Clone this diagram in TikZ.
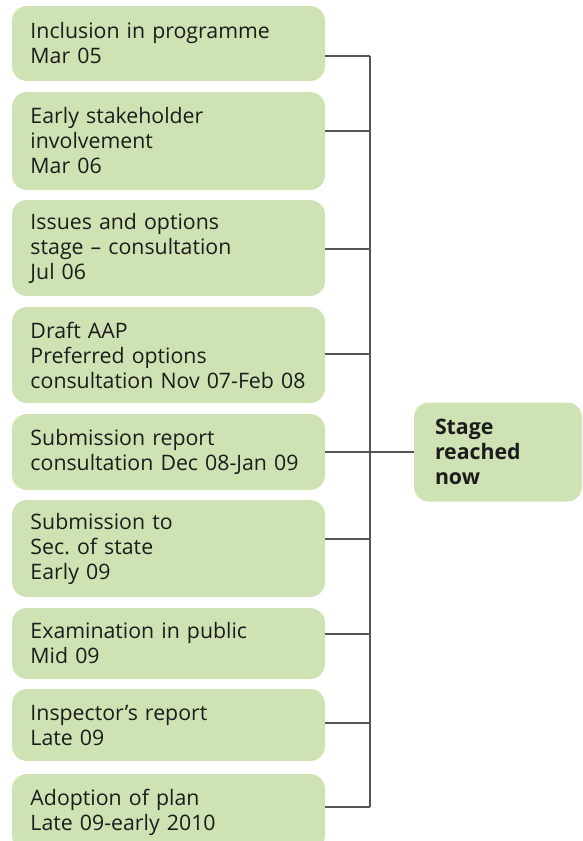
\documentclass[tikz,border=0pt]{standalone}
\usepackage{fontspec}
\setmainfont{Open Sans}
\usetikzlibrary{positioning}
\definecolor{stagebg}{HTML}{CFE2B3}
\definecolor{linkgrey}{HTML}{555555}
\definecolor{inktext}{HTML}{1C1C1C}

\begin{document}
\begin{tikzpicture}[
  x=1pt, y=-1pt,
  box/.style={fill=stagebg, rounded corners=15pt, minimum width=313pt,
              text width=276pt, inner xsep=18.5pt, align=left, text=inktext,
              font=\fontsize{21.3}{25}\selectfont},
  link/.style={draw=linkgrey, line width=1.4pt}
]
  \useasboundingbox (0,0) rectangle (582,841);
  \clip (0,0) rectangle (582,841);
  % stages of the plan
  \node[box, minimum height=75pt] (inc) at (168.5,43.5) {Inclusion in programme\\Mar 05};
  \node[box, minimum height=98pt] (early) at (168.5,141) {Early stakeholder\\involvement\\Mar 06};
  \node[box, minimum height=96pt] (issues) at (168.5,248) {Issues and options\\stage -- consultation\\Jul 06};
  \node[box, minimum height=96pt] (draft) at (168.5,355) {Draft AAP\\Preferred options\\consultation Nov 07-Feb 08};
  \node[box, minimum height=76pt] (sub) at (168.5,452) {Submission report\\consultation Dec 08-Jan 09};
  \node[box, minimum height=97pt] (sec) at (168.5,548.5) {Submission to\\Sec.\ of state\\Early 09};
  \node[box, minimum height=71pt] (exam) at (168.5,643.5) {Examination in public\\Mid 09};
  \node[box, minimum height=72pt] (insp) at (168.5,725) {Inspector’s report\\Late 09};
  \node[box, minimum height=76pt] (adopt) at (168.5,812) {Adoption of plan\\Late 09-early 2010};
  % current stage
  \node[box, minimum width=168pt, text width=126pt, inner xsep=21pt, minimum height=99pt,
        font=\fontsize{21.3}{25}\selectfont\bfseries] (stage) at (498,452) {Stage\\reached\\now};
  % bracket
  \coordinate (busTop) at (370,56);
  \coordinate (busBot) at (370,807);
  \draw[link] (busTop) -- (busBot);
  \foreach \b/\dy in {inc/-12.5, early/10, issues/-1, draft/1, sec/9.5, exam/9.5, insp/2, adopt/5}
    \draw[link] ([yshift=\dy pt]\b.east) -- ++(45,0);
  \draw[link] (sub.east) -- (stage.west);
\end{tikzpicture}
\end{document}
